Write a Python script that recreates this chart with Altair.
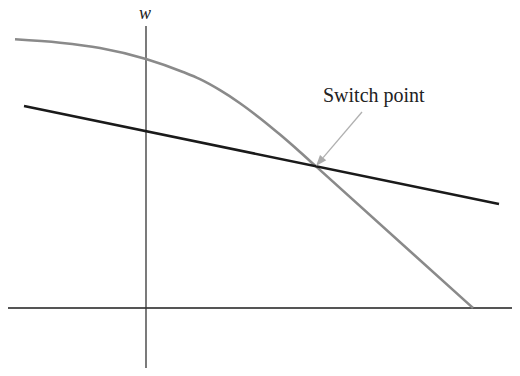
import altair as alt
import pandas as pd
import numpy as np

# Gray curve (values in chart units, origin at axes crossing)
curve_x = [-131, -86, -46, 0, 37, 54, 74, 94, 114, 134, 154, 170, 327]
curve_y = [268.7, 265.3, 260, 249, 236, 228.8, 217.8, 204.8, 189.8, 173.4, 156, 141.6, 0]

# Black straight line
line_x = [-122, 353]
line_y = [202, 104]

# Axes extents
haxis_x = [-138, 369]
vaxis_y = [-67, 282]

# Labels
label_axis = "w"
label_axis_pos = [-1, 294]
label_switch = "Switch point"
label_switch_pos = [177, 206]

# Arrow (start, tip)
arrow_start = [216, 196]
arrow_tip = [170, 142]

X_DOM = [-138, 366]
Y_DOM = [-60, 300]
xs = alt.Scale(domain=X_DOM, nice=False, zero=False)
ys = alt.Scale(domain=Y_DOM, nice=False, zero=False)

curve_df = pd.DataFrame({"x": curve_x, "y": curve_y})
line_df = pd.DataFrame({"x": line_x, "y": line_y})
hax_df = pd.DataFrame({"x": [haxis_x[0]], "x2": [haxis_x[1]], "y": [0]})
vax_df = pd.DataFrame({"x": [0], "y": [vaxis_y[0]], "y2": [vaxis_y[1]]})

# arrow geometry
d = np.array(arrow_tip, float) - np.array(arrow_start, float)
L = np.hypot(*d)
u = d / L
head_len = 11.0
base = np.array(arrow_tip) - u * head_len
center = np.array(arrow_tip) - u * head_len / 2
ang = float(np.degrees(np.arctan2(u[0], u[1]))) % 360
arrow_line_df = pd.DataFrame({"x": [arrow_start[0]], "y": [arrow_start[1]],
                              "x2": [base[0]], "y2": [base[1]]})
arrow_head_df = pd.DataFrame({"x": [center[0]], "y": [center[1]], "a": [ang]})

X = lambda f="x": alt.X(f, type="quantitative", scale=xs, axis=None)
Y = lambda f="y": alt.Y(f, type="quantitative", scale=ys, axis=None)

hax = alt.Chart(hax_df).mark_rule(color="#555555", strokeWidth=2, clip=True).encode(
    x=X(), x2="x2:Q", y=Y())
vax = alt.Chart(vax_df).mark_rule(color="#333333", strokeWidth=1.3, clip=True).encode(
    x=X(), y=Y(), y2="y2:Q")

curve = alt.Chart(curve_df).mark_line(
    color="#8a8a8a", strokeWidth=2.6, interpolate="monotone").encode(
    x=X(), y=Y(), order=alt.Order("x:Q"))
line = alt.Chart(line_df).mark_line(color="#1a1a1a", strokeWidth=2.6).encode(
    x=X(), y=Y())

arrow_line = alt.Chart(arrow_line_df).mark_rule(color="#b0b0b0", strokeWidth=1.3).encode(
    x=X(), y=Y(), x2="x2:Q", y2="y2:Q")
arrow_head = alt.Chart(arrow_head_df).mark_point(
    shape="M0,-1L0.75,1L-0.75,1Z", filled=True, color="#aaaaaa", opacity=1,
    size=121, strokeWidth=0).encode(
    x=X(), y=Y(), angle=alt.Angle("a:Q", scale=None))

txt_w = alt.Chart(pd.DataFrame({"x": [label_axis_pos[0]], "y": [label_axis_pos[1]],
                                "t": [label_axis]})).mark_text(
    font="Liberation Serif", fontStyle="italic", fontSize=18, color="#222222",
    align="center", baseline="middle").encode(x=X(), y=Y(), text="t:N")

txt_s = alt.Chart(pd.DataFrame({"x": [label_switch_pos[0]], "y": [label_switch_pos[1]],
                                "t": [label_switch]})).mark_text(
    font="Liberation Serif", fontSize=20, color="#222222",
    align="left", baseline="alphabetic").encode(x=X(), y=Y(), text="t:N")

chart = alt.layer(hax, vax, curve, line, arrow_line, arrow_head, txt_w, txt_s).properties(
    width=504, height=360, padding=0, autosize=alt.AutoSizeParams(type="none"),
    background="white"
).configure_view(stroke=None)

chart.save("out.html", embed_options={"renderer": "svg", "actions": False})
